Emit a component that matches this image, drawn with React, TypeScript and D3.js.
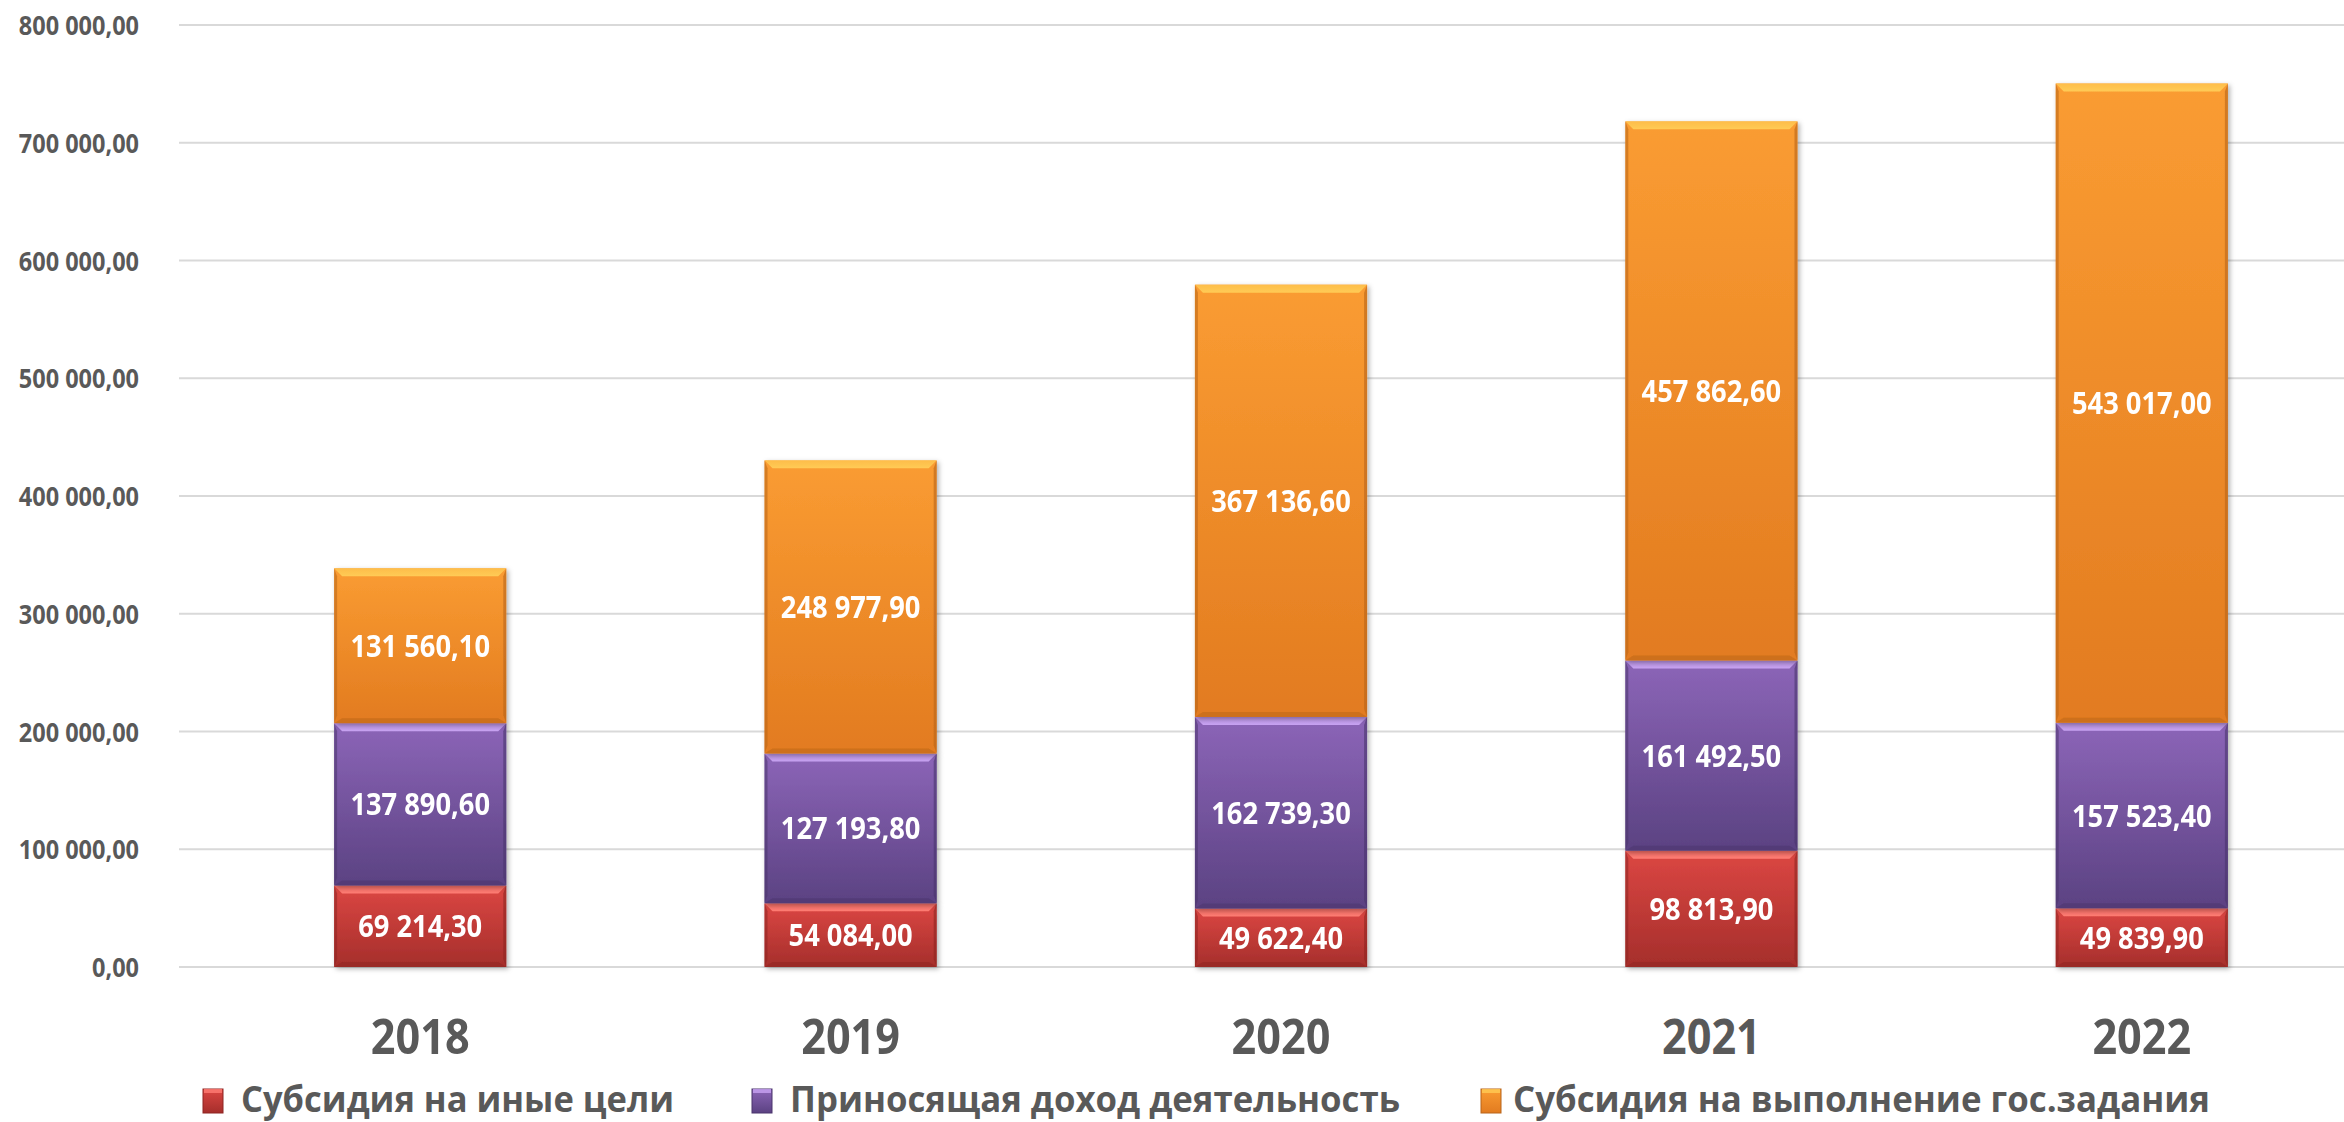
import React from "react";
import * as d3 from "d3";

const years = ["2018", "2019", "2020", "2021", "2022"];
const otherPurposes = [69214.3, 54084.0, 49622.4, 98813.9, 49839.9];
const incomeActivity = [137890.6, 127193.8, 162739.3, 161492.5, 157523.4];
const stateTask = [131560.1, 248977.9, 367136.6, 457862.6, 543017.0];
const seriesNames = [
  "Субсидия на иные цели",
  "Приносящая доход деятельность",
  "Субсидия на выполнение гос.задания",
];
const yTicks = [0, 100000, 200000, 300000, 400000, 500000, 600000, 700000, 800000];

const W = 2344;
const H = 1122;
const FONT = "'Open Sans', Lato, sans-serif";
const AXIS_COLOR = "#595959";

const palettes = [
  { id: "red", top: "#DC4743", bottom: "#A52E2B", hi: "#FF7D74", edge: "#8E2422" },
  { id: "purple", top: "#8C65B8", bottom: "#5B4282", hi: "#C8A3F2", edge: "#4A346C" },
  { id: "orange", top: "#FA9C32", bottom: "#E27B20", hi: "#FFCB55", edge: "#B8641A" },
];

const ru = d3.formatLocale({
  decimal: ",",
  thousands: " ",
  grouping: [3],
  currency: ["", ""],
});
const fmt = ru.format(",.2f");

const legendLayout = [
  { markerX: 203, textX: 241, textLen: 433 },
  { markerX: 752, textX: 790, textLen: 610 },
  { markerX: 1481, textX: 1513, textLen: 697 },
];

function Bar({ x, y0, y1, w, p }: any) {
  const h = y0 - y1;
  if (h <= 0) return null;
  const b = Math.min(8, h / 3);
  const s = 3;
  const xr = x + w;
  return (
    <g>
      <rect x={x} y={y1} width={w} height={h} fill={`url(#grad-${p.id})`} />
      <polygon
        points={`${x},${y1} ${xr},${y1} ${xr - b},${y1 + b} ${x + b},${y1 + b}`}
        fill={`url(#hi-${p.id})`}
      />
      <polygon
        points={`${x},${y1} ${x + s},${y1 + b} ${x + s},${y0 - b} ${x},${y0}`}
        fill={p.edge}
        opacity={0.55}
      />
      <polygon
        points={`${xr},${y1} ${xr - s},${y1 + b} ${xr - s},${y0 - b} ${xr},${y0}`}
        fill={p.edge}
        opacity={0.6}
      />
      <polygon
        points={`${x},${y0} ${xr},${y0} ${xr - b},${y0 - 5} ${x + b},${y0 - 5}`}
        fill={p.edge}
        opacity={0.5}
      />
    </g>
  );
}

export default function App() {
  const x = d3
    .scaleBand<string>()
    .domain(years)
    .range([205, 2357])
    .paddingInner(0.6)
    .paddingOuter(0.3);
  const y = d3.scaleLinear().domain([0, 800000]).range([967, 25]);

  const table = years.map((yr, i) => ({
    year: yr,
    a: otherPurposes[i],
    b: incomeActivity[i],
    c: stateTask[i],
  }));
  const stack = d3.stack<any>().keys(["a", "b", "c"]);
  const series = stack(table);

  return (
    <svg
      width={W}
      height={H}
      style={{ position: "absolute", left: 0, top: 0, background: "#fff" }}
      fontFamily={FONT}
    >
      <defs>
        {palettes.map((p) => (
          <React.Fragment key={p.id}>
            <linearGradient id={`grad-${p.id}`} x1="0" y1="0" x2="0" y2="1">
              <stop offset="0" stopColor={p.top} />
              <stop offset="1" stopColor={p.bottom} />
            </linearGradient>
            <linearGradient id={`hi-${p.id}`} x1="0" y1="0" x2="0" y2="1">
              <stop offset="0" stopColor={p.hi} stopOpacity={0.7} />
              <stop offset="1" stopColor={p.hi} stopOpacity={1} />
            </linearGradient>
          </React.Fragment>
        ))}
        <filter id="shadow" x="-10%" y="-10%" width="130%" height="130%">
          <feDropShadow dx="2" dy="2" stdDeviation="2.5" floodColor="#000" floodOpacity="0.3" />
        </filter>
      </defs>

      {/* gridlines */}
      {yTicks.map((t) => (
        <line
          key={t}
          x1={179}
          x2={W}
          y1={y(t)}
          y2={y(t)}
          stroke="#D9D9D9"
          strokeWidth={2}
        />
      ))}

      {/* y labels */}
      {yTicks.map((t) => (
        <text
          key={t}
          transform={`translate(139,${y(t) + 10}) scale(0.87,1)`}
          textAnchor="end"
          fontSize={27}
          fontWeight={700}
          fill={AXIS_COLOR}
        >
          {fmt(t)}
        </text>
      ))}

      {/* bars */}
      {series.map((s, si) => (
        <g key={si} filter="url(#shadow)">
          {s.map((d: any, i: number) => (
            <Bar
              key={i}
              x={x(years[i])!}
              w={x.bandwidth()}
              y0={y(d[0])}
              y1={y(d[1])}
              p={palettes[si]}
            />
          ))}
        </g>
      ))}

      {/* value labels */}
      {series.map((s, si) =>
        s.map((d: any, i: number) => {
          const cx = x(years[i])! + x.bandwidth() / 2;
          const cy = (y(d[0]) + y(d[1])) / 2;
          return (
            <text
              key={`${si}-${i}`}
              transform={`translate(${cx},${cy + 11}) scale(0.88,1)`}
              textAnchor="middle"
              fontSize={31}
              fontWeight={700}
              fill="#fff"
            >
              {fmt(d[1] - d[0])}
            </text>
          );
        })
      )}

      {/* x labels */}
      {years.map((yr) => (
        <text
          key={yr}
          transform={`translate(${x(yr)! + x.bandwidth() / 2},1054) scale(0.9,1)`}
          textAnchor="middle"
          fontSize={48}
          fontWeight={700}
          fill={AXIS_COLOR}
        >
          {yr}
        </text>
      ))}

      {/* legend */}
      {seriesNames.map((name, i) => {
        const L = legendLayout[i];
        const p = palettes[i];
        return (
          <g key={name}>
            <rect
              x={L.markerX}
              y={1089}
              width={20}
              height={24}
              fill={`url(#grad-${p.id})`}
              stroke={p.edge}
              strokeWidth={1}
            />
            <rect x={L.markerX + 1} y={1089} width={18} height={4} fill={p.hi} opacity={0.8} />
            <text
              x={L.textX}
              y={1112}
              fontSize={35}
              fontWeight={700}
              fill={AXIS_COLOR}
              textLength={L.textLen}
              lengthAdjust="spacingAndGlyphs"
            >
              {name}
            </text>
          </g>
        );
      })}
    </svg>
  );
}
